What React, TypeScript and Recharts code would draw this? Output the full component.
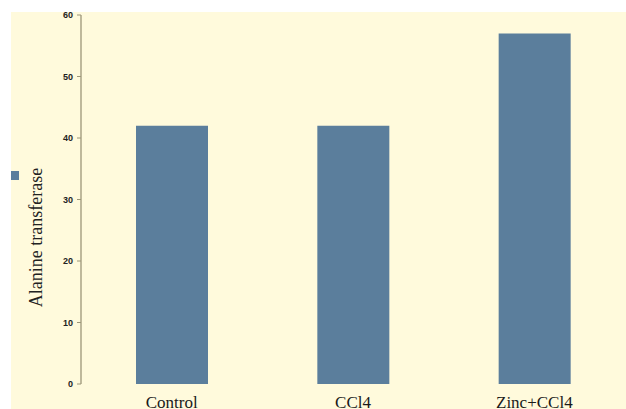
import React from "react";
import { BarChart, Bar, XAxis, YAxis, Legend } from "recharts";

// ALT activity per treatment group
const groups = ["Control", "CCl4", "Zinc+CCl4"];
const alanineTransferase = [42, 42, 57];
const yTicks = [0, 10, 20, 30, 40, 50, 60];
// category boundaries on the edge axis (0..groups.length)
const groupEdges = [0, 1, 2, 3];

const data = groups.map((name, i) => ({ name, value: alanineTransferase[i] }));

const AXIS = "#9c9678";
const BAR = "#5b7e9c";
const PAPER = "#fffadc";

const SquareLegend = ({ payload }: any) => (
	<div>
		{(payload || []).map((p: any) => (
			<div
				key={p.value}
				style={{ width: 8, height: 9, backgroundColor: p.color }}
			/>
		))}
	</div>
);

const YTitle = ({ viewBox }: any) => {
	const { x, y, height } = viewBox;
	const cx = x + 36;
	const cy = y + height / 2 + 38;
	return (
		<text
			x={cx}
			y={cy}
			transform={`rotate(-90, ${cx}, ${cy})`}
			textAnchor='middle'
			dominantBaseline='central'
			fontFamily='"Liberation Serif", "Times New Roman", serif'
			fontSize={18}
			fill='#222'>
			Alanine transferase
		</text>
	);
};

export default function App() {
	return (
		<div
			style={{
				position: "absolute",
				left: 0,
				top: 0,
				width: 626,
				height: 409,
				background: "#fff",
				overflow: "hidden",
			}}>
			<div
				style={{
					position: "absolute",
					left: 11,
					top: 12,
					right: 0,
					bottom: 0,
					background: PAPER,
				}}
			/>
			<div style={{ position: "absolute", left: 0, top: 0 }}>
				<BarChart
					width={626}
					height={409}
					data={data}
					margin={{ top: 15, right: 1, bottom: 0, left: 0 }}>
					<XAxis
						xAxisId='edges'
						type='number'
						domain={[0, groups.length]}
						ticks={groupEdges}
						height={0}
						tickSize={5}
						stroke={AXIS}
						axisLine={{ stroke: AXIS, strokeWidth: 1.3 }}
						tickLine={{ stroke: AXIS, strokeWidth: 1.2 }}
						tick={false}
					/>
					<XAxis
						xAxisId='cat'
						dataKey='name'
						height={25}
						interval={0}
						axisLine={false}
						tickLine={false}
						tickSize={0}
						tickMargin={12}
						tick={{
							fontFamily: '"Liberation Serif", "Times New Roman", serif',
							fontSize: 17,
							fill: "#1a1a1a",
						}}
					/>
					<YAxis
						width={81}
						domain={[0, 60]}
						ticks={yTicks}
						interval={0}
						tickSize={4}
						tickMargin={4}
						axisLine={{ stroke: AXIS, strokeWidth: 1.3 }}
						tickLine={{ stroke: AXIS }}
						tick={{
							fontFamily: '"Liberation Sans", Arial, sans-serif',
							fontSize: 9,
							fontWeight: 700,
							fill: "#222",
						}}
						label={<YTitle />}
					/>
					<Legend
						layout='horizontal'
						align='center'
						verticalAlign='middle'
						content={<SquareLegend />}
						wrapperStyle={{ left: 11, top: 171, width: 8, height: 9 }}
					/>
					<Bar
						xAxisId='cat'
						dataKey='value'
						name='Alanine transferase'
						fill={BAR}
						barSize={72}
						isAnimationActive={false}
					/>
				</BarChart>
			</div>
		</div>
	);
}
